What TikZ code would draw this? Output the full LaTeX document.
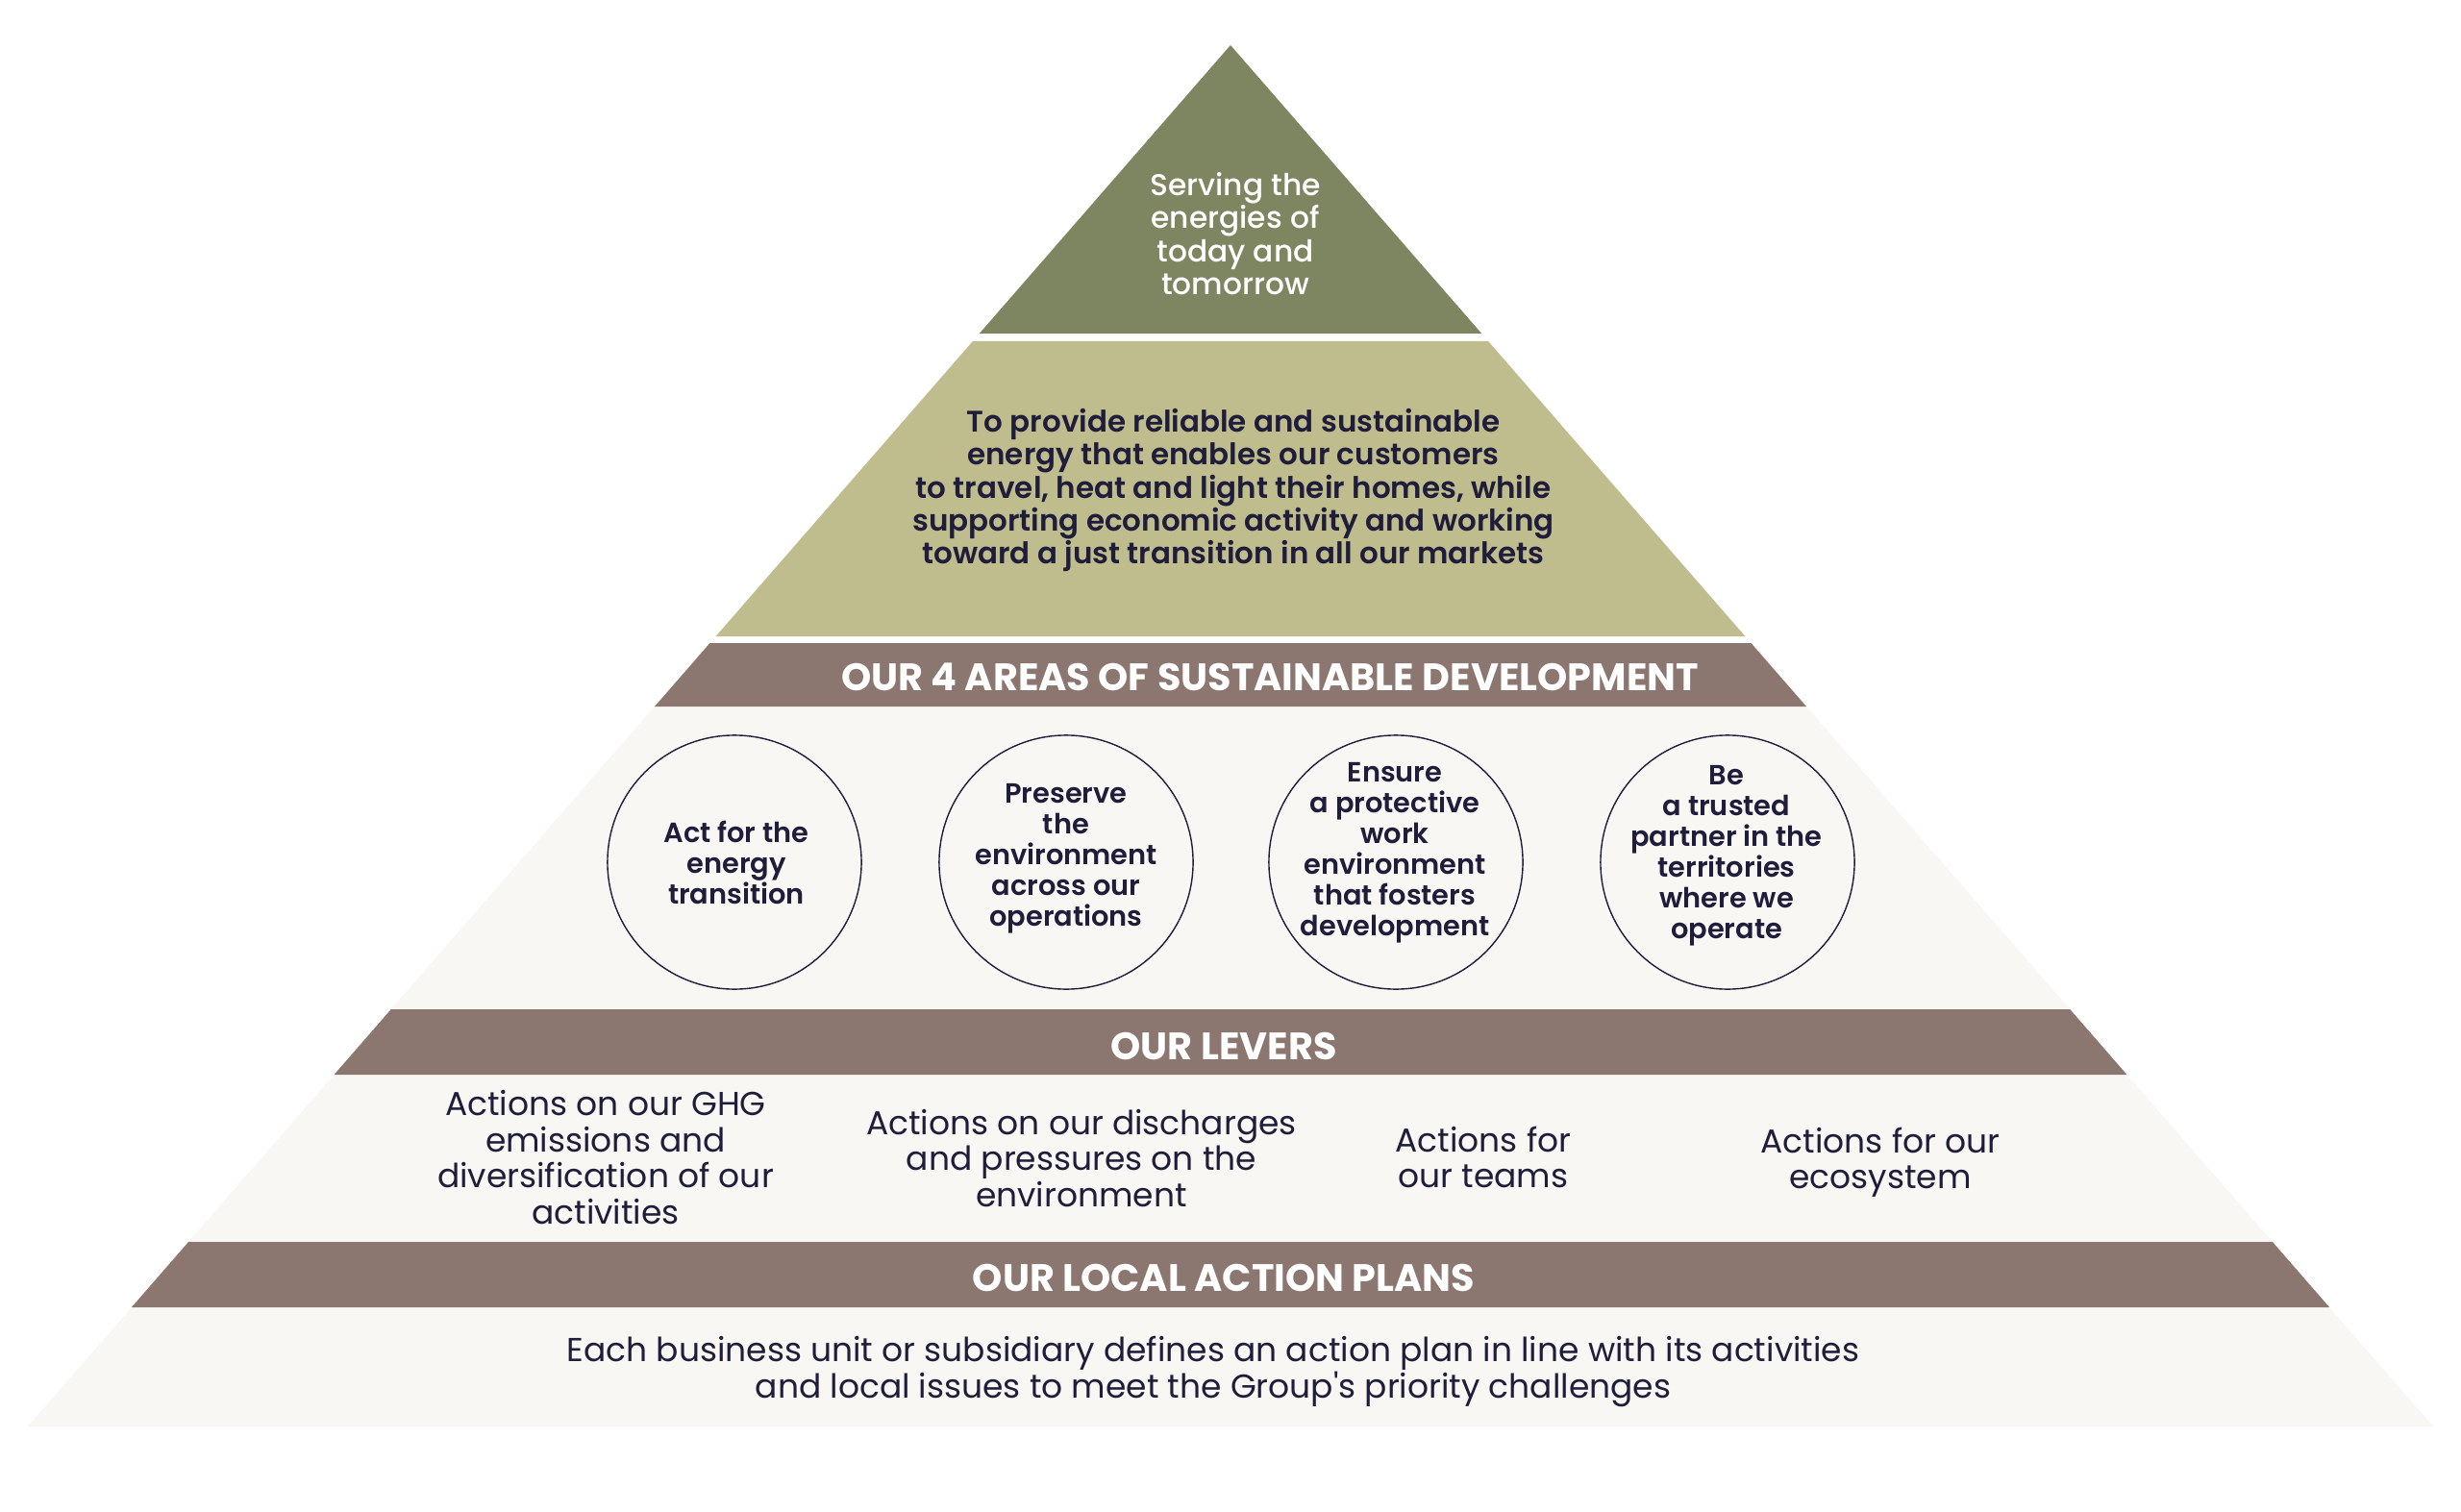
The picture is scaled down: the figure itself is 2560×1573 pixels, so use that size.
\documentclass[tikz,border=0pt]{standalone}
\usepackage{fontspec}
\setmainfont{Poppins}[Ligatures=TeXOff]
\newfontfamily\semib{Poppins SemiBold}
\newfontfamily\medi{Poppins Medium}
\definecolor{topgreen}{HTML}{7D8661}
\definecolor{olive}{HTML}{BFBD8E}
\definecolor{bandbrown}{HTML}{8B7670}
\definecolor{cream}{HTML}{F8F7F3}
\definecolor{navy}{HTML}{1F1D3A}
\begin{document}
\begin{tikzpicture}[x=0.01cm,y=-0.01cm,
  txt/.style={inner sep=0pt, align=center, text=navy},
  toptxt/.style={txt, text=white, font=\medi\fontsize{8.9pt}{9.8pt}\selectfont},
  missiontxt/.style={txt, font=\semib\fontsize{8.8pt}{9.8pt}\selectfont},
  headtxt/.style={txt, text=white, font=\bfseries\fontsize{11.3pt}{12pt}\selectfont},
  circtxt/.style={txt, font=\semib\fontsize{8.2pt}{9.1pt}\selectfont},
  levertxt/.style={txt, font=\fontsize{9.8pt}{10.65pt}\selectfont},
  area/.style={circle, draw=navy, line width=0.4pt, minimum size=2.64cm, inner sep=0pt}
]
\fill[white] (0,0) rectangle (2560,1573);
\useasboundingbox (0,0) rectangle (2560,1573);
% pyramid layers
\fill[topgreen] (1280,47) -- (1541.2,347) -- (1018.8,347) -- cycle;
\fill[olive] (1011.9,355) -- (1548.1,355) -- (1815.4,662) -- (744.6,662) -- cycle;
\fill[cream] (681.0,735) -- (1879.0,735) -- (2531.0,1484) -- (29.0,1484) -- cycle;
\fill[bandbrown] (738.5,669) -- (1821.5,669) -- (1879.0,735) -- (681.0,735) -- cycle;
\fill[bandbrown] (406.8,1050) -- (2153.2,1050) -- (2212.4,1118) -- (347.6,1118) -- cycle;
\fill[bandbrown] (196.1,1292) -- (2363.9,1292) -- (2423.1,1360) -- (136.9,1360) -- cycle;
% texts
\node[toptxt] (serving) at (1285,243) {Serving the\\energies of\\today and\\tomorrow};
\node[missiontxt] (mission) at (1283,510) {To provide reliable and sustainable\\energy that enables our customers\\to travel, heat and light their homes, while\\supporting economic activity and working\\toward a just transition in all our markets};
\node[headtxt] (areas) at (1321,704) {OUR 4 AREAS OF SUSTAINABLE DEVELOPMENT};
\node[area] (c1) at (764,897) {};
\node[area] (c2) at (1109,897) {};
\node[area] (c3) at (1452,897) {};
\node[area] (c4) at (1797,897) {};
\node[circtxt] (t1) at (766,897) {Act for the\\energy\\transition};
\node[circtxt] (t2) at (1109,893) {Preserve\\the\\environment\\across our\\operations};
\node[circtxt] (t3) at (1451,887) {Ensure\\a protective\\work\\environment\\that fosters\\development};
\node[circtxt] (t4) at (1796,890) {Be\\a trusted\\partner in the\\territories\\where we\\operate};
\node[headtxt] (levers) at (1273,1088) {OUR LEVERS};
\node[levertxt] (l1) at (630,1204) {Actions on our GHG\\emissions and\\diversification of our\\activities};
\node[levertxt] (l2) at (1125,1205) {Actions on our discharges\\and pressures on the\\environment};
\node[levertxt] (l3) at (1543,1204) {Actions for\\our teams};
\node[levertxt] (l4) at (1956,1209) {Actions for our\\ecosystem};
\node[headtxt] (local) at (1273,1329) {OUR LOCAL ACTION PLANS};
\node[levertxt] (plan) at (1262,1427) {Each business unit or subsidiary defines an action plan in line with its activities\\and local issues to meet the Group's priority challenges};
\end{tikzpicture}
\end{document}
